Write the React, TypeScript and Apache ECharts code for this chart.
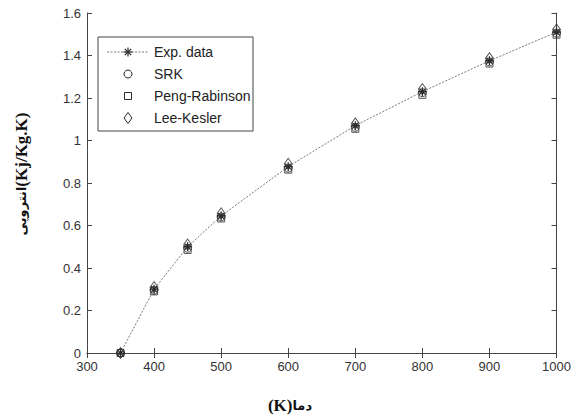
import React, { useEffect, useRef } from "react";
import * as echarts from "echarts";

const temps = [350, 400, 450, 500, 600, 700, 800, 900, 1000];
const expData = [0, 0.3, 0.5, 0.645, 0.877, 1.07, 1.23, 1.375, 1.51];
const srkData = [0, 0.295, 0.493, 0.64, 0.87, 1.062, 1.225, 1.37, 1.505];
const prData = [0, 0.29, 0.485, 0.633, 0.863, 1.055, 1.215, 1.362, 1.498];
const lkData = [0, 0.31, 0.51, 0.657, 0.89, 1.08, 1.242, 1.387, 1.522];
const seriesNames = ["Exp. data", "SRK", "Peng-Rabinson", "Lee-Kesler"];
const xLabelFa = "دما";
const xLabelUnit = "(K)";
const yLabelFa = "انتروپی";
const yLabelUnit = "(Kj/Kg.K)";

const pair = (ys: number[]) => temps.map((t, i) => [t, ys[i]]);

const STAR = "path://M0,5L10,5M5,0L5,10M1.6,1.6L8.4,8.4M8.4,1.6L1.6,8.4";
const INK = "#2a2a2a";
const LEGEND_FONT = "14px 'Liberation Sans', Arial, sans-serif";

const richStyles = {
  u: { fontFamily: "'Liberation Serif', serif", fontWeight: "bold", fontSize: 17, fill: "#111" },
  f: { fontFamily: "'DejaVu Sans', sans-serif", fontWeight: "bold", fontSize: 13, fill: "#111" },
};

function legendGraphic() {
  const left = 98, top = 37, w = 155, h = 94;
  const iconX = 128, textX = 154;
  const rows = [52, 74, 96, 118];
  const els: any[] = [
    { type: "rect", shape: { x: left, y: top, width: w, height: h }, style: { fill: "#fff", stroke: "#444", lineWidth: 1 }, z: 100 },
  ];
  const sym = { fill: "none", stroke: INK, lineWidth: 1 };
  els.push({ type: "line", shape: { x1: 107, y1: rows[0], x2: 149, y2: rows[0] }, style: { stroke: "#777", lineWidth: 1, lineDash: [2, 1.5] }, z: 101 });
  const r = 4.5, d = 3.2;
  els.push({ type: "line", shape: { x1: iconX - r, y1: rows[0], x2: iconX + r, y2: rows[0] }, style: { stroke: INK, lineWidth: 1.2 }, z: 102 });
  els.push({ type: "line", shape: { x1: iconX, y1: rows[0] - r, x2: iconX, y2: rows[0] + r }, style: { stroke: INK, lineWidth: 1.2 }, z: 102 });
  els.push({ type: "line", shape: { x1: iconX - d, y1: rows[0] - d, x2: iconX + d, y2: rows[0] + d }, style: { stroke: INK, lineWidth: 1.2 }, z: 102 });
  els.push({ type: "line", shape: { x1: iconX + d, y1: rows[0] - d, x2: iconX - d, y2: rows[0] + d }, style: { stroke: INK, lineWidth: 1.2 }, z: 102 });
  els.push({ type: "circle", shape: { cx: iconX, cy: rows[1], r: 4 }, style: sym, z: 102 });
  els.push({ type: "rect", shape: { x: iconX - 3.5, y: rows[2] - 3.5, width: 7, height: 7 }, style: sym, z: 102 });
  els.push({ type: "polygon", shape: { points: [[iconX, rows[3] - 5.5], [iconX + 4, rows[3]], [iconX, rows[3] + 5.5], [iconX - 4, rows[3]]] }, style: sym, z: 102 });
  seriesNames.forEach((n, i) => {
    els.push({ type: "text", x: textX, y: rows[i], style: { text: n, fill: "#222", font: LEGEND_FONT, textAlign: "left", textVerticalAlign: "middle" }, z: 102 });
  });
  return els;
}

export default function App() {
  const ref = useRef<HTMLDivElement>(null);
  useEffect(() => {
    const chart = echarts.init(ref.current!, null, { renderer: "svg" });
    const axisLine = { show: true, lineStyle: { color: "#444", width: 1 } };
    const tickStyle = { show: true, inside: true, length: 5, lineStyle: { color: "#444" } };
    const labelStyle = { color: "#333", fontSize: 13, fontFamily: "Liberation Sans, Arial, sans-serif" };
    chart.setOption({
      animation: false,
      backgroundColor: "#fff",
      grid: { left: 87, right: 17, top: 13, bottom: 65, containLabel: false },
      xAxis: [
        {
          type: "value", min: 300, max: 1000, interval: 100, position: "bottom",
          axisLine, axisTick: tickStyle, splitLine: { show: false },
          axisLabel: { ...labelStyle, margin: 7, formatter: (v: number) => String(v) },
        },
        {
          type: "value", min: 300, max: 1000, interval: 100, position: "top",
          axisLine, axisTick: tickStyle, splitLine: { show: false }, axisLabel: { show: false },
        },
      ],
      yAxis: [
        {
          type: "value", min: 0, max: 1.6, interval: 0.2, position: "left",
          axisLine, axisTick: tickStyle, splitLine: { show: false },
          axisLabel: { ...labelStyle, margin: 6, formatter: (v: number) => String(Math.round(v * 10) / 10) },
        },
        {
          type: "value", min: 0, max: 1.6, interval: 0.2, position: "right",
          axisLine, axisTick: tickStyle, splitLine: { show: false }, axisLabel: { show: false },
        },
      ],
      series: [
        {
          name: seriesNames[0], type: "line", data: pair(expData),
          symbol: STAR, symbolSize: 9, showAllSymbol: true,
          lineStyle: { color: "#777", width: 1, type: [2, 1.5] },
          itemStyle: { color: INK, borderColor: INK, borderWidth: 1.2 },
          z: 5,
        },
        {
          name: seriesNames[1], type: "scatter", data: pair(srkData),
          symbol: "circle", symbolSize: 8,
          itemStyle: { color: "rgba(255,255,255,0)", borderColor: INK, borderWidth: 1 },
        },
        {
          name: seriesNames[2], type: "scatter", data: pair(prData),
          symbol: "rect", symbolSize: 7,
          itemStyle: { color: "rgba(255,255,255,0)", borderColor: INK, borderWidth: 1 },
        },
        {
          name: seriesNames[3], type: "scatter", data: pair(lkData),
          symbol: "diamond", symbolSize: [8, 11],
          itemStyle: { color: "rgba(255,255,255,0)", borderColor: INK, borderWidth: 1 },
        },
      ],
      graphic: [
        ...legendGraphic(),
        {
          type: "text", x: 290, y: 405,
          style: {
            text: `{u|${xLabelUnit}}{f|${xLabelFa}}`, rich: richStyles,
            textAlign: "center", textVerticalAlign: "middle",
          },
        },
        {
          type: "text", x: 21, y: 174, rotation: Math.PI / 2,
          style: {
            text: `{f|${yLabelFa}}{u|${yLabelUnit}}`, rich: richStyles,
            textAlign: "center", textVerticalAlign: "middle",
          },
        },
      ],
    });
    return () => chart.dispose();
  }, []);
  return <div ref={ref} style={{ position: "fixed", left: 0, top: 0, width: 574, height: 418 }} />;
}
